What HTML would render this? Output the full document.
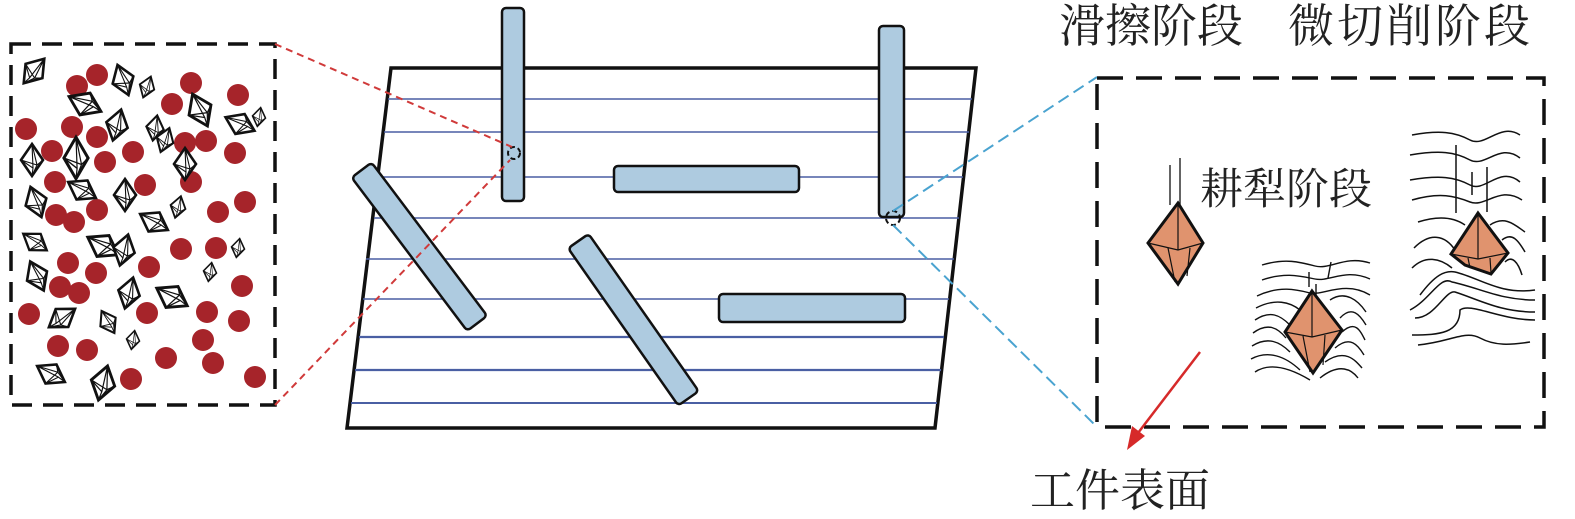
<!DOCTYPE html>
<html><head><meta charset="utf-8"><style>
html,body{margin:0;padding:0;background:#fff;}
svg{display:block;}
text{font-family:"Liberation Serif","Noto Serif CJK SC",serif;fill:#222;}
</style></head><body>
<svg width="1575" height="519" viewBox="0 0 1575 519" xmlns="http://www.w3.org/2000/svg">
<defs>
<g id="cr">
<polygon points="0,-16 11,0 0,16 -11,0" fill="#fff" stroke="#111" stroke-width="2.6"/>
<path d="M0,-16 L1,8 M-11,0 L5,5 L11,0 M-11,0 L1,8 L0,16 M0,-16 L5,5 L0,16" stroke="#111" stroke-width="1.1" fill="none"/>
</g>
</defs>

<rect x="11" y="44" width="264" height="361" fill="none" stroke="#111" stroke-width="3.5" stroke-dasharray="20,11"/>
<g fill="#a6242a">
<circle cx="97" cy="75" r="11"/><circle cx="77" cy="86" r="11"/><circle cx="191" cy="83" r="11"/><circle cx="238" cy="95" r="11"/><circle cx="172" cy="104" r="11"/><circle cx="26" cy="129" r="11"/><circle cx="72" cy="127" r="11"/><circle cx="97" cy="137" r="11"/><circle cx="185" cy="143" r="11"/><circle cx="206" cy="141" r="11"/><circle cx="52" cy="151" r="11"/><circle cx="133" cy="152" r="11"/><circle cx="105" cy="162" r="11"/><circle cx="235" cy="153" r="11"/><circle cx="55" cy="182" r="11"/><circle cx="145" cy="185" r="11"/><circle cx="191" cy="182" r="11"/><circle cx="245" cy="202" r="11"/><circle cx="218" cy="212" r="11"/><circle cx="56" cy="215" r="11"/><circle cx="74" cy="222" r="11"/><circle cx="97" cy="210" r="11"/><circle cx="181" cy="249" r="11"/><circle cx="216" cy="248" r="11"/><circle cx="68" cy="263" r="11"/><circle cx="96" cy="273" r="11"/><circle cx="149" cy="267" r="11"/><circle cx="60" cy="287" r="11"/><circle cx="79" cy="293" r="11"/><circle cx="242" cy="286" r="11"/><circle cx="29" cy="314" r="11"/><circle cx="147" cy="313" r="11"/><circle cx="207" cy="312" r="11"/><circle cx="239" cy="321" r="11"/><circle cx="58" cy="346" r="11"/><circle cx="87" cy="350" r="11"/><circle cx="203" cy="340" r="11"/><circle cx="166" cy="358" r="11"/><circle cx="213" cy="363" r="11"/><circle cx="131" cy="379" r="11"/><circle cx="255" cy="377" r="11"/>
</g>
<use href="#cr" transform="translate(34,71) rotate(40)"/>
<use href="#cr" transform="translate(85,104) rotate(-65) scale(1.1)"/>
<use href="#cr" transform="translate(123,80) rotate(-20)"/>
<use href="#cr" transform="translate(147,87) rotate(20) scale(0.7)"/>
<use href="#cr" transform="translate(200,110) rotate(-25) scale(1.1)"/>
<use href="#cr" transform="translate(240,124) rotate(-65)"/>
<use href="#cr" transform="translate(117,125) rotate(15)"/>
<use href="#cr" transform="translate(155,128) rotate(10) scale(0.8)"/>
<use href="#cr" transform="translate(32,160)"/>
<use href="#cr" transform="translate(76,158) scale(1.1,1.3)"/>
<use href="#cr" transform="translate(165,140) rotate(20) scale(0.8)"/>
<use href="#cr" transform="translate(185,164)"/>
<use href="#cr" transform="translate(259,117) rotate(10) scale(0.6)"/>
<use href="#cr" transform="translate(36,202) rotate(-20)"/>
<use href="#cr" transform="translate(82,190) rotate(-60)"/>
<use href="#cr" transform="translate(125,195)"/>
<use href="#cr" transform="translate(154,222) rotate(-60)"/>
<use href="#cr" transform="translate(178,207) rotate(15) scale(0.7)"/>
<use href="#cr" transform="translate(35,242) rotate(-55) scale(0.9)"/>
<use href="#cr" transform="translate(103,246) rotate(-60) scale(1.1)"/>
<use href="#cr" transform="translate(124,250) rotate(15)"/>
<use href="#cr" transform="translate(238,248) rotate(10) scale(0.6)"/>
<use href="#cr" transform="translate(37,276) rotate(-25)"/>
<use href="#cr" transform="translate(210,272) rotate(10) scale(0.6)"/>
<use href="#cr" transform="translate(129,293) rotate(15)"/>
<use href="#cr" transform="translate(172,297) rotate(-60) scale(1.1)"/>
<use href="#cr" transform="translate(62,318) rotate(55)"/>
<use href="#cr" transform="translate(108,322) rotate(-30) scale(0.8)"/>
<use href="#cr" transform="translate(133,340) rotate(10) scale(0.6)"/>
<use href="#cr" transform="translate(51,374) rotate(-60)"/>
<use href="#cr" transform="translate(103,383) rotate(15) scale(1.1)"/>

<polygon points="391,68 976,68 935,428 347,428" fill="#fff" stroke="#111" stroke-width="3.5"/>
<g stroke="#4a5fa3" stroke-width="1.6">
<line x1="388" y1="99" x2="972" y2="99"/>
<line x1="384" y1="132" x2="969" y2="132"/>
<line x1="379" y1="177" x2="963" y2="177"/>
<line x1="374" y1="218" x2="959" y2="218"/>
<line x1="366" y1="259" x2="954" y2="259"/>
<line x1="363" y1="299" x2="949" y2="299"/>
<line x1="359" y1="337" x2="944" y2="337" stroke-width="2.2"/>
<line x1="355" y1="370" x2="941" y2="370" stroke-width="2.2"/>
<line x1="351" y1="403" x2="937" y2="403" stroke-width="2"/>
</g>
<g fill="#aecbe0" stroke="#111" stroke-width="2.5">
<rect x="502" y="8" width="22" height="193" rx="4"/>
<rect x="879" y="26" width="25" height="191" rx="4"/>
<rect x="614" y="166" width="185" height="26" rx="4"/>
<rect x="719" y="294" width="186" height="28" rx="4"/>
<rect x="-12" y="-96" width="25" height="192" rx="4" transform="translate(419,247) rotate(-37)"/>
<rect x="-12" y="-96" width="25" height="192" rx="4" transform="translate(633,320) rotate(-35)"/>
</g>
<circle cx="514" cy="153" r="6" fill="none" stroke="#111" stroke-width="2" stroke-dasharray="5,3"/>
<circle cx="893" cy="218" r="7" fill="none" stroke="#111" stroke-width="2" stroke-dasharray="5,3"/>
<g stroke="#d03a3a" stroke-width="2" stroke-dasharray="7,5">
<line x1="275" y1="44" x2="512" y2="147"/>
<line x1="275" y1="405" x2="510" y2="160"/>
</g>
<g stroke="#4aa3d0" stroke-width="2" stroke-dasharray="12,6">
<line x1="893" y1="211" x2="1097" y2="77"/>
<line x1="893" y1="225" x2="1097" y2="427"/>
</g>

<rect x="1097" y="78" width="447" height="349" fill="none" stroke="#111" stroke-width="3.5" stroke-dasharray="26,13"/>

<text x="1059" y="42" font-size="46">滑擦阶段</text>
<text x="1288" y="42" font-size="46" letter-spacing="3">微切削阶段</text>
<text x="1200" y="204" font-size="43">耕犁阶段</text>
<text x="1030" y="506" font-size="45">工件表面</text>

<line x1="1200" y1="352" x2="1138" y2="433" stroke="#d62a2a" stroke-width="2.5"/>
<polygon points="1127,450 1132,426 1145,436" fill="#d62a2a"/>

<g stroke="#111" stroke-width="1.3"><line x1="1170" y1="165" x2="1170" y2="205"/><line x1="1180" y1="158" x2="1180" y2="205"/></g>
<polygon points="1178,203 1203,243 1178,284 1148,243" fill="#e0936e" stroke="#111" stroke-width="3"/>
<path d="M1178,203 L1178,250 M1148,243 L1178,250 L1203,243 M1168,248 L1175,282 M1190,248 L1187,276" stroke="#111" stroke-width="1.2" fill="none"/>

<g stroke="#111" stroke-width="1.4" fill="none">
<path d="M1262,265 C1285,258 1300,262 1315,266 S1345,255 1370,263"/>
<path d="M1262,280 C1285,272 1300,276 1315,279 S1345,268 1370,279"/>
<path d="M1257,296 C1280,285 1298,290 1310,293 S1345,280 1370,295"/>
<path d="M1256,308 C1275,298 1290,302 1300,310 M1330,300 C1345,290 1358,300 1366,312"/>
<path d="M1255,320 C1270,310 1280,315 1290,325 M1340,318 C1352,305 1360,315 1366,325"/>
<path d="M1253,333 C1268,322 1278,328 1286,338 M1342,332 C1355,320 1360,330 1365,340"/>
<path d="M1252,346 C1268,336 1280,342 1290,352 M1335,348 C1350,335 1358,345 1364,355"/>
<path d="M1251,359 C1268,350 1285,356 1300,370 M1325,362 C1345,348 1355,360 1362,368"/>
<path d="M1255,372 C1270,362 1290,368 1310,380 M1320,378 C1340,362 1352,370 1358,378"/>
<line x1="1309" y1="272" x2="1309" y2="287"/><line x1="1331" y1="262" x2="1328" y2="278"/><line x1="1316" y1="284" x2="1316" y2="300"/>
</g>
<polygon points="1312,291 1342,330 1313,373 1285,332" fill="#e0936e" stroke="#111" stroke-width="3"/>
<path d="M1312,291 L1312,337 M1285,332 L1312,337 L1342,330 M1303,336 L1310,372 M1325,335 L1323,365" stroke="#111" stroke-width="1.2" fill="none"/>

<g stroke="#111" stroke-width="1.5" fill="none">
<path d="M1412,135 C1440,130 1455,132 1470,140 S1500,122 1520,135"/>
<path d="M1410,155 C1440,150 1455,152 1470,160 S1500,142 1520,158"/>
<path d="M1410,180 C1440,175 1455,177 1470,185 S1500,165 1520,182"/>
<path d="M1412,200 C1440,192 1455,196 1470,202 S1500,185 1522,200"/>
<path d="M1418,222 C1440,215 1455,218 1465,225 M1490,225 C1505,215 1515,225 1525,232"/>
<path d="M1414,248 C1430,232 1445,235 1455,250 M1502,240 C1512,232 1518,240 1525,252"/>
<path d="M1412,268 C1425,255 1440,258 1452,268 M1505,262 C1512,255 1518,262 1522,275"/>
<path d="M1420,295 C1435,275 1445,270 1455,272 C1480,278 1500,295 1535,290"/>
<path d="M1410,310 C1430,300 1440,275 1452,282 C1480,288 1500,300 1535,300"/>
<path d="M1415,318 C1435,318 1445,290 1455,292 C1480,300 1500,312 1535,312"/>
<path d="M1412,335 C1440,335 1460,333 1460,310 C1470,302 1500,320 1535,320"/>
<path d="M1418,345 C1450,342 1465,330 1480,338 S1510,345 1530,342"/>
<line x1="1456" y1="145" x2="1456" y2="213"/><line x1="1472" y1="172" x2="1472" y2="195"/><line x1="1487" y1="167" x2="1487" y2="212"/>
</g>
<polygon points="1478,213 1508,253 1491,274 1465,265 1451,254" fill="#e0936e" stroke="#111" stroke-width="3"/>
<path d="M1478,213 L1478,259 M1451,254 L1478,259 L1508,253 M1468,258 L1470,268 M1490,258 L1491,273" stroke="#111" stroke-width="1.2" fill="none"/>
</svg>
</body></html>
